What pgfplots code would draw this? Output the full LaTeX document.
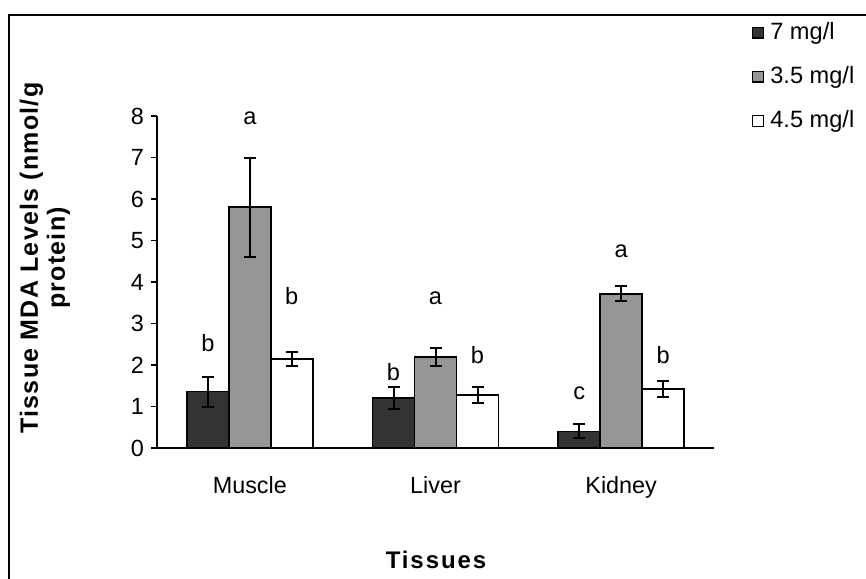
\documentclass[border=0pt]{standalone}
\usepackage{fontspec}
\setmainfont{Liberation Sans}
\usepackage{pgfplots}
\pgfplotsset{compat=1.18}
\definecolor{darkbar}{HTML}{333333}
\definecolor{graybar}{HTML}{969696}

\begin{document}
\begin{tikzpicture}
\useasboundingbox (0,0) rectangle (433pt,-289pt);
\begin{scope}
\clip (0,0) rectangle (433pt,-289pt);
\draw[line width=1pt] (4.5pt,-300pt) -- (4.5pt,-7.5pt) -- (440pt,-7.5pt);
\end{scope}
\begin{axis}[
  at={(78.5pt,-224pt)}, anchor=south west,
  scale only axis, width=278.5pt, height=166pt,
  xmin=-0.5, xmax=2.5, ymin=0, ymax=8,
  axis lines=left,
  axis line style={-, line width=0.9pt},
  ybar=0pt, bar width=21pt,
  ytick={0,1,...,8},
  xtick={0,1,2},
  xticklabels={Muscle,Liver,Kidney},
  major tick length=3pt,
  tick align=outside,
  tick style={line width=0.9pt, black},
  xtick style={draw=none},
  extra x ticks={-0.5,0.5,1.5,2.5},
  extra x tick labels={},
  extra x tick style={tick style={line width=0.9pt, black}, major tick length=3.5pt},
  tick label style={font=\fontsize{11.7}{13}\selectfont},
  xticklabel style={yshift=-7.5pt},
  /pgf/number format/assume math mode=true,
  legend style={draw=none, fill=none, at={(1.067,1.295)}, anchor=north west,
    font=\fontsize{11.8}{13}\selectfont, row sep=8pt, inner sep=0pt},
  legend cell align=left,
  legend image code/.code={\draw[#1, line width=0.6pt] (0pt,-2.7pt) rectangle (5.4pt,2.7pt); \path[draw=none,fill=none] (0pt,0pt) -- (7pt,0pt);},
  clip=false,
]
\addplot[fill=darkbar, draw=black, line width=0.9pt,
  error bars/.cd, y dir=both, y explicit,
  error bar style={line width=1pt, black},
  error mark options={rotate=90, mark size=3pt, line width=1pt, black}]
  coordinates {(0,1.36) +- (0,0.36) (1,1.20) +- (0,0.26) (2,0.40) +- (0,0.17)};
\addplot[fill=graybar, draw=black, line width=0.9pt,
  error bars/.cd, y dir=both, y explicit,
  error bar style={line width=1pt, black},
  error mark options={rotate=90, mark size=3pt, line width=1pt, black}]
  coordinates {(0,5.80) +- (0,1.20) (1,2.20) +- (0,0.22) (2,3.72) +- (0,0.18)};
\addplot[fill=white, draw=black, line width=0.9pt,
  error bars/.cd, y dir=both, y explicit,
  error bar style={line width=1pt, black},
  error mark options={rotate=90, mark size=3pt, line width=1pt, black}]
  coordinates {(0,2.15) +- (0,0.17) (1,1.28) +- (0,0.20) (2,1.42) +- (0,0.20)};
\legend{7 mg/l, 3.5 mg/l, 4.5 mg/l}
\begin{scope}[every node/.style={font=\fontsize{11.8}{13}\selectfont}]
\node at (axis cs:-0.226,2.53) {b};
\node at (axis cs:0,7.95) {a};
\node at (axis cs:0.226,3.66) {b};
\node at (axis cs:0.774,1.83) {b};
\node at (axis cs:1,3.61) {a};
\node at (axis cs:1.226,2.24) {b};
\node at (axis cs:1.774,1.33) {c};
\node at (axis cs:2,4.73) {a};
\node at (axis cs:2.226,2.24) {b};
\end{scope}
\end{axis}
\node[rotate=90, align=center, font=\bfseries\fontsize{12.5}{13.5}\selectfont\addfontfeature{LetterSpace=5}] at (22.5pt,-129pt) {Tissue MDA Levels (nmol/g\\protein)};
\node[font=\bfseries\fontsize{12}{14}\selectfont\addfontfeature{LetterSpace=8}, text height=8.6pt] at (218pt,-280pt) {Tissues};
\end{tikzpicture}
\end{document}
